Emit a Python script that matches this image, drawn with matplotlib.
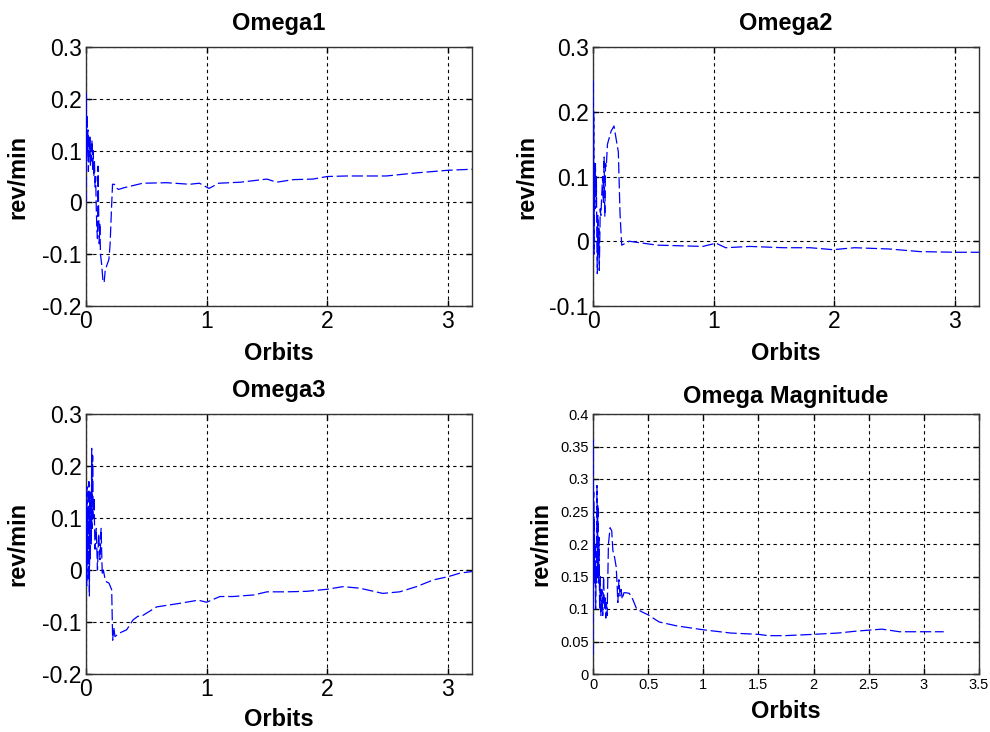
import matplotlib
matplotlib.use("Agg")
import matplotlib.pyplot as plt
import numpy as np

plt.rcParams['font.family'] = ['Liberation Sans', 'DejaVu Sans']

# angular rate components (rev/min) vs orbits
w1_orbit = [0.000, 0.002, 0.005, 0.008, 0.012, 0.016, 0.020, 0.024, 0.028, 0.032,
            0.036, 0.040, 0.045, 0.050, 0.055, 0.060, 0.065, 0.070, 0.075, 0.080,
            0.085, 0.090, 0.095, 0.100, 0.105, 0.110, 0.115, 0.120, 0.130, 0.140,
            0.150, 0.160, 0.175, 0.190, 0.200, 0.210, 0.220, 0.235, 0.250, 0.270,
            0.310, 0.470, 0.670, 0.860, 0.940, 1.020, 1.100, 1.280, 1.500, 1.580,
            1.720, 1.880, 2.000, 2.160, 2.490, 2.740, 3.000, 3.200]
w1_value = [0.000, 0.210, 0.080, 0.170, 0.100, 0.140, 0.060, 0.120, 0.090, 0.130,
            0.070, 0.110, 0.080, 0.120, 0.060, 0.100, 0.050, 0.080, 0.030, 0.050,
            -0.010, -0.050, -0.070, 0.070, -0.020, -0.080, -0.040, -0.100, -0.120, -0.150,
            -0.155, -0.130, -0.120, -0.110, -0.080, -0.020, 0.035, 0.035, 0.028, 0.025,
            0.028, 0.037, 0.038, 0.035, 0.037, 0.027, 0.037, 0.039, 0.045, 0.039,
            0.044, 0.045, 0.050, 0.051, 0.051, 0.057, 0.062, 0.064]

w2_orbit = [0.000, 0.002, 0.004, 0.006, 0.009, 0.012, 0.016, 0.020, 0.024, 0.028,
            0.032, 0.036, 0.040, 0.044, 0.048, 0.052, 0.056, 0.060, 0.066, 0.072,
            0.080, 0.086, 0.092, 0.098, 0.104, 0.110, 0.120, 0.135, 0.150, 0.174,
            0.190, 0.210, 0.224, 0.238, 0.260, 0.300, 0.530, 0.910, 1.020, 1.100,
            1.300, 1.580, 1.800, 1.990, 2.170, 2.460, 2.710, 3.010, 3.200]
w2_value = [0.000, 0.250, 0.030, 0.200, -0.020, 0.120, 0.050, 0.120, 0.070, 0.100,
            0.000, -0.050, 0.040, -0.020, 0.020, -0.045, 0.000, 0.050, 0.040, 0.070,
            0.100, 0.060, 0.130, 0.038, 0.120, 0.115, 0.150, 0.160, 0.170, 0.178,
            0.160, 0.138, 0.043, -0.006, -0.004, 0.000, -0.006, -0.008, -0.003, -0.010,
            -0.008, -0.010, -0.010, -0.013, -0.010, -0.012, -0.016, -0.017, -0.017]

w3_orbit = [0.000, 0.003, 0.006, 0.009, 0.012, 0.016, 0.020, 0.024, 0.028, 0.032,
            0.036, 0.040, 0.044, 0.047, 0.051, 0.055, 0.060, 0.066, 0.075, 0.085,
            0.095, 0.105, 0.116, 0.125, 0.135, 0.144, 0.160, 0.171, 0.190, 0.213,
            0.221, 0.230, 0.240, 0.280, 0.337, 0.390, 0.430, 0.460, 0.585, 0.780,
            0.930, 1.000, 1.110, 1.220, 1.390, 1.500, 1.660, 1.830, 2.000, 2.130,
            2.270, 2.460, 2.600, 2.740, 2.880, 3.000, 3.100, 3.200]
w3_value = [0.000, 0.130, -0.030, 0.160, 0.020, 0.120, -0.020, 0.170, -0.050, 0.140,
            0.020, 0.150, 0.050, 0.234, 0.080, 0.220, 0.100, 0.140, 0.040, 0.080,
            0.000, 0.070, 0.020, 0.080, -0.010, 0.000, -0.020, -0.023, -0.025, -0.038,
            -0.135, -0.110, -0.128, -0.121, -0.115, -0.096, -0.089, -0.089, -0.071, -0.064,
            -0.058, -0.062, -0.051, -0.051, -0.048, -0.042, -0.042, -0.041, -0.037, -0.032,
            -0.035, -0.045, -0.042, -0.032, -0.019, -0.013, -0.006, -0.003]

wm_orbit = [0.000, 0.002, 0.004, 0.006, 0.009, 0.012, 0.016, 0.020, 0.024, 0.028,
            0.032, 0.036, 0.040, 0.045, 0.050, 0.055, 0.060, 0.066, 0.072, 0.080,
            0.088, 0.096, 0.104, 0.110, 0.116, 0.122, 0.128, 0.140, 0.155, 0.170,
            0.180, 0.195, 0.210, 0.218, 0.225, 0.235, 0.245, 0.255, 0.265, 0.280,
            0.300, 0.330, 0.360, 0.396, 0.450, 0.500, 0.600, 0.760, 1.000, 1.250,
            1.500, 1.590, 1.740, 2.000, 2.220, 2.390, 2.620, 2.780, 3.000, 3.180]
wm_value = [0.030, 0.360, 0.100, 0.280, 0.150, 0.240, 0.140, 0.200, 0.100, 0.160,
            0.140, 0.290, 0.150, 0.260, 0.140, 0.210, 0.100, 0.150, 0.090, 0.130,
            0.090, 0.150, 0.100, 0.120, 0.086, 0.110, 0.090, 0.200, 0.225, 0.220,
            0.190, 0.180, 0.165, 0.140, 0.110, 0.145, 0.120, 0.130, 0.115, 0.125,
            0.125, 0.124, 0.115, 0.100, 0.095, 0.091, 0.080, 0.074, 0.068, 0.063,
            0.061, 0.059, 0.059, 0.061, 0.063, 0.066, 0.069, 0.065, 0.065, 0.065]

W, H = 990, 732
fig = plt.figure(figsize=(W / 100, H / 100), dpi=100)


def make_axes(left, top, right, bottom):
    return fig.add_axes([left / W, 1 - bottom / H, (right - left) / W, (bottom - top) / H])


def style(ax, x, y, title, xlim, ylim, xticks, yticks, fs, ylab_off, xlab_off, title_off):
    ax.plot(x, y, color='blue', lw=0.9, dashes=(9, 3), zorder=3)
    ax.set_xlim(xlim)
    ax.set_ylim(ylim)
    ax.set_xticks(xticks)
    ax.set_yticks(yticks)
    ax.grid(True, color='black', linestyle=(0, (3, 3)), linewidth=0.8)
    ax.tick_params(direction='in', length=4, width=1, top=True, right=True,
                   labelsize=fs, pad=3)
    for s in ax.spines.values():
        s.set_linewidth(1.0)
        s.set_color('#333333')
    ax.set_title(title, fontsize=17, fontweight='bold', pad=title_off)
    ax.set_xlabel('Orbits', fontsize=17, fontweight='bold', labelpad=xlab_off)
    ax.set_ylabel('rev/min', fontsize=17, fontweight='bold', labelpad=ylab_off)


ax1 = make_axes(86, 47, 472, 306)
style(ax1, w1_orbit, w1_value, 'Omega1', (0, 3.2), (-0.2, 0.3), [0, 1, 2, 3],
      [-0.2, -0.1, 0, 0.1, 0.2, 0.3], 16.5, 9, 6, 12)
ax1.set_yticklabels(['-0.2', '-0.1', '0', '0.1', '0.2', '0.3'])

ax2 = make_axes(593, 47, 979, 306)
style(ax2, w2_orbit, w2_value, 'Omega2', (0, 3.2), (-0.1, 0.3), [0, 1, 2, 3],
      [-0.1, 0, 0.1, 0.2, 0.3], 16.5, 8, 6, 12)
ax2.set_yticklabels(['-0.1', '0', '0.1', '0.2', '0.3'])

ax3 = make_axes(86, 414, 472, 674)
style(ax3, w3_orbit, w3_value, 'Omega3', (0, 3.2), (-0.2, 0.3), [0, 1, 2, 3],
      [-0.2, -0.1, 0, 0.1, 0.2, 0.3], 16.5, 9, 5, 12)
ax3.set_yticklabels(['-0.2', '-0.1', '0', '0.1', '0.2', '0.3'])

ax4 = make_axes(593, 414, 979, 674)
style(ax4, wm_orbit, wm_value, 'Omega Magnitude', (0, 3.5), (0, 0.4),
      np.arange(0, 3.51, 0.5), np.arange(0, 0.401, 0.05), 10.5, 5.5, 6, 8)
ax4.set_xticklabels(['0', '0.5', '1', '1.5', '2', '2.5', '3', '3.5'])
ax4.set_yticklabels(['0', '0.05', '0.1', '0.15', '0.2', '0.25', '0.3', '0.35', '0.4'])

fig.savefig('out.png', dpi=100, facecolor='white')
